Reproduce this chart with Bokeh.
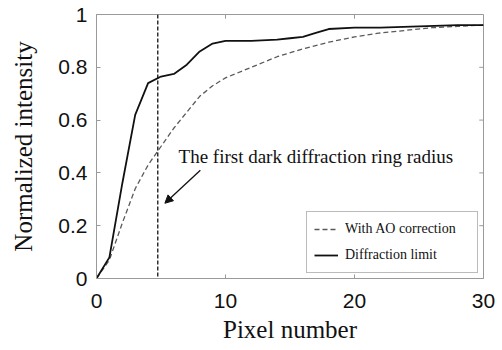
from bokeh.plotting import figure
from bokeh.models import Span, Arrow, NormalHead, Label, Legend, LegendItem, FixedTicker
from bokeh.embed import file_html
from bokeh.resources import INLINE

# Data
ao_x = [0, 1, 2, 3, 4, 5, 6, 7, 8, 9, 10, 12, 14, 16, 18, 20, 22, 24, 26, 28, 30]
ao_y = [0, 0.07, 0.21, 0.34, 0.43, 0.50, 0.57, 0.63, 0.69, 0.73, 0.76, 0.80, 0.84, 0.87, 0.895, 0.915, 0.93, 0.94, 0.95, 0.955, 0.96]

dl_x = [0, 1, 2, 3, 4, 5, 6, 7, 8, 9, 10, 12, 14, 15, 16, 17, 18, 20, 22, 25, 28, 30]
dl_y = [0, 0.08, 0.36, 0.62, 0.74, 0.765, 0.775, 0.81, 0.86, 0.89, 0.90, 0.90, 0.905, 0.91, 0.915, 0.93, 0.945, 0.95, 0.95, 0.955, 0.96, 0.96]

ring_radius = 4.75
x_ticks = [0, 10, 20, 30]
y_ticks = [0, 0.2, 0.4, 0.6, 0.8, 1]
y_tick_labels = {0: "0", 0.2: "0.2", 0.4: "0.4", 0.6: "0.6", 0.8: "0.8", 1: "1"}
annotation = "The first dark diffraction ring radius"
annotation_pos = (6.36, 0.464)
arrow_from = (8.05, 0.41)
arrow_to = (5.3, 0.285)

X_MAX, Y_MAX = 30, 1

p = figure(width=500, height=345, output_backend="svg", toolbar_location=None,
           x_range=(0, X_MAX), y_range=(0, Y_MAX),
           min_border_left=96, min_border_top=14, min_border_right=17, min_border_bottom=60)
p.background_fill_color = "white"
p.border_fill_color = "white"
p.outline_line_color = "#9a9a9a"
p.grid.visible = False

gray = "#9a9a9a"
for ax in [p.xaxis[0], p.yaxis[0]]:
    ax.axis_line_color = gray
    ax.major_tick_line_color = gray
    ax.major_tick_in = 4
    ax.major_tick_out = 0
    ax.minor_tick_line_color = None
    ax.major_label_text_font = "Liberation Sans"
    ax.major_label_text_font_size = "21px"
    ax.major_label_text_color = "#111111"
    ax.axis_label_text_font = "Liberation Serif"
    ax.axis_label_text_font_size = "25px"
    ax.axis_label_text_font_style = "normal"
    ax.axis_label_text_color = "#111111"

p.xaxis.ticker = FixedTicker(ticks=x_ticks)
p.yaxis.ticker = FixedTicker(ticks=y_ticks)
p.yaxis.major_label_overrides = y_tick_labels
p.xaxis.axis_label = "Pixel number"
p.yaxis.axis_label = "Normalized intensity"
p.xaxis.major_label_standoff = 15
p.yaxis.major_label_standoff = 9
p.xaxis.axis_label_standoff = 5
p.yaxis.axis_label_standoff = 18

# inward ticks on the top and right frame edges
p.segment(x0=x_ticks, y0=[Y_MAX] * len(x_ticks), x1=x_ticks, y1=[Y_MAX - 0.016] * len(x_ticks),
          line_color=gray, line_width=1)
p.segment(x0=[X_MAX] * len(y_ticks), y0=y_ticks, x1=[X_MAX - 0.33] * len(y_ticks), y1=y_ticks,
          line_color=gray, line_width=1)

r_ao = p.line(ao_x, ao_y, line_color="#5a5a5a", line_width=1.3, line_dash="5 3")
r_dl = p.line(dl_x, dl_y, line_color="#111111", line_width=1.8)

p.add_layout(Span(location=ring_radius, dimension="height", line_color="#111111",
                  line_width=1.3, line_dash="4 2"))

p.add_layout(Label(x=annotation_pos[0], y=annotation_pos[1], text=annotation,
                   text_font="Liberation Serif", text_font_size="19px",
                   text_color="#111111", text_baseline="middle"))
p.add_layout(Arrow(x_start=arrow_from[0], y_start=arrow_from[1], x_end=arrow_to[0], y_end=arrow_to[1],
                   line_color="#111111", line_width=1.3,
                   end=NormalHead(size=8, fill_color="#111111", line_color="#111111")))

legend = Legend(items=[LegendItem(label="With AO correction", renderers=[r_ao]),
                       LegendItem(label="Diffraction limit", renderers=[r_dl])],
                location=(210, 5), label_text_font="Liberation Serif",
                label_text_font_size="14px", label_text_color="#111111",
                border_line_color="#777777", border_line_width=1,
                glyph_width=24, glyph_height=20, spacing=6, padding=7, margin=0,
                label_standoff=7, label_height=20, label_width=125)
p.add_layout(legend, "center")

open("out.html", "w").write(file_html(p, INLINE))
